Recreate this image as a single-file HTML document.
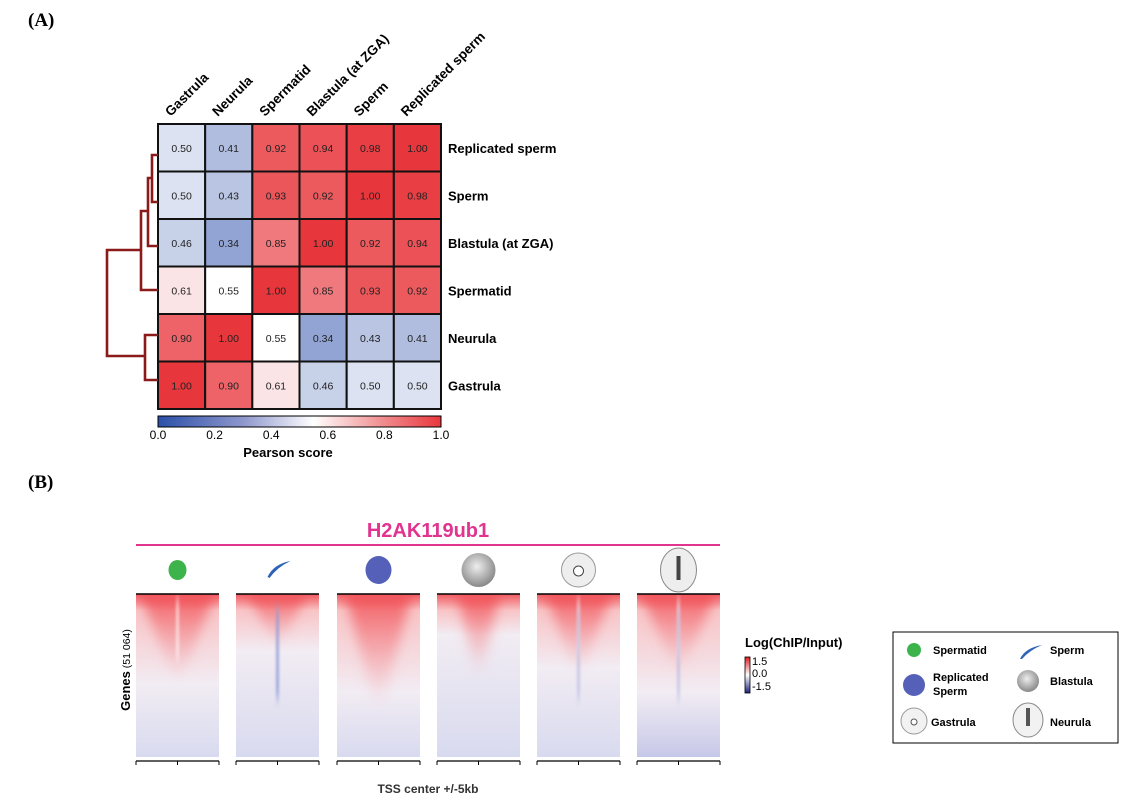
<!DOCTYPE html>
<html><head><meta charset="utf-8"><style>
body{margin:0;background:#fff;}
svg{display:block;font-family:"Liberation Sans",sans-serif;}
.b{font-weight:bold}
</style></head><body>
<svg id="s" width="1138" height="812" viewBox="0 0 1138 812" xmlns="http://www.w3.org/2000/svg">
<defs>
<linearGradient id="cb" x1="0" x2="1" y1="0" y2="0">
<stop offset="0" stop-color="#2b4fa8"/><stop offset="0.3" stop-color="#8e97cc"/><stop offset="0.55" stop-color="#ffffff"/><stop offset="0.8" stop-color="#f08a8c"/><stop offset="1" stop-color="#e8373c"/>
</linearGradient>
<linearGradient id="lc" x1="0" x2="0" y1="0" y2="1">
<stop offset="0" stop-color="#e41a1c"/><stop offset="0.5" stop-color="#ffffff"/><stop offset="1" stop-color="#1a237e"/>
</linearGradient>
<radialGradient id="bl" cx="0.45" cy="0.4" r="0.6"><stop offset="0" stop-color="#eee"/><stop offset="1" stop-color="#888"/></radialGradient>
<filter id="blur" x="-50%" y="-10%" width="200%" height="120%"><feGaussianBlur stdDeviation="6 4"/></filter>
<filter id="blur2" x="-200%" y="-10%" width="500%" height="120%"><feGaussianBlur stdDeviation="1.2 6"/></filter>
</defs>
<text x="28" y="26" font-family="Liberation Serif" font-weight="bold" font-size="19">(A)</text>
<text x="28" y="488" font-family="Liberation Serif" font-weight="bold" font-size="19">(B)</text>
<g id="hm"></g>
<g stroke="#8b1a1a" stroke-width="2.6" fill="none">
<path d="M158 155 H152 V202 H158"/>
<path d="M152 178 H148 V246 H158"/>
<path d="M148 211 H141 V290 H158"/>
<path d="M158 335 H145 V380 H158"/>
<path d="M141 250 H107 V356 H145"/>
</g>
<rect x="158" y="416" width="283" height="11" fill="url(#cb)" stroke="#000" stroke-width="1"/>
<g font-size="12" text-anchor="middle">
<text x="158" y="439">0.0</text><text x="214.6" y="439">0.2</text><text x="271.2" y="439">0.4</text><text x="327.8" y="439">0.6</text><text x="384.4" y="439">0.8</text><text x="441" y="439">1.0</text>
</g>
<text x="288" y="457" text-anchor="middle" class="b" font-size="13">Pearson score</text>

<text x="428" y="537" text-anchor="middle" class="b" font-size="20" fill="#e0348f">H2AK119ub1</text>
<line x1="136" y1="545" x2="720" y2="545" stroke="#e0348f" stroke-width="2"/>
<g id="pb"></g>
<text x="428" y="793" text-anchor="middle" class="b" font-size="12" fill="#333">TSS center +/-5kb</text>
<text transform="translate(130,670) rotate(-90)" text-anchor="middle" font-size="13"><tspan class="b">Genes</tspan><tspan font-size="10.5"> (51 064)</tspan></text>

<text x="745" y="647" class="b" font-size="13">Log(ChIP/Input)</text>
<rect x="745" y="657" width="5" height="36" fill="url(#lc)" stroke="#000" stroke-width="0.8"/>
<g font-size="11"><text x="752" y="665">1.5</text><text x="752" y="677">0.0</text><text x="752" y="690">-1.5</text></g>

<rect x="893" y="632" width="225" height="111" fill="#fff" stroke="#000" stroke-width="1"/>
<circle cx="914" cy="650" r="7" fill="#3cb44b"/>
<text x="933" y="654" class="b" font-size="11">Spermatid</text>
<path d="M1020 659 Q1025 648 1042 645 Q1030 650 1022 659Z" fill="#2f63b8"/>
<text x="1050" y="654" class="b" font-size="11">Sperm</text>
<circle cx="914" cy="685" r="11" fill="#5560b8"/>
<text x="933" y="681" class="b" font-size="11">Replicated</text>
<text x="933" y="695" class="b" font-size="11">Sperm</text>
<circle cx="1028" cy="681" r="11" fill="url(#bl)"/>
<text x="1050" y="685" class="b" font-size="11">Blastula</text>
<circle cx="914" cy="721" r="13" fill="#f2f2f2" stroke="#999"/><circle cx="914" cy="722" r="3" fill="#fff" stroke="#555"/>
<text x="931" y="726" class="b" font-size="11">Gastrula</text>
<ellipse cx="1028" cy="720" rx="15" ry="17" fill="#f2f2f2" stroke="#888"/><rect x="1026" y="708" width="4" height="18" fill="#555"/>
<text x="1050" y="726" class="b" font-size="11">Neurula</text>
</svg>
<script>
var NS="http://www.w3.org/2000/svg";
function el(p,t,a,txt){var e=document.createElementNS(NS,t);for(var k in a)e.setAttribute(k,a[k]);if(txt)e.textContent=txt;p.appendChild(e);return e;}
var rows=["Replicated sperm","Sperm","Blastula (at ZGA)","Spermatid","Neurula","Gastrula"];
var cols=["Gastrula","Neurula","Spermatid","Blastula (at ZGA)","Sperm","Replicated sperm"];
var V=[[.50,.41,.92,.94,.98,1.00],[.50,.43,.93,.92,1.00,.98],[.46,.34,.85,1.00,.92,.94],[.61,.55,1.00,.85,.93,.92],[.90,1.00,.55,.34,.43,.41],[1.00,.90,.61,.46,.50,.50]];
function col(v){var r,g,b;if(v<0.55){var t=Math.pow((0.55-v)/0.55,0.8);r=255+(20-255)*t;g=255+(60-255)*t;b=255+(160-255)*t;}else{var t=(v-0.55)/0.45;r=255+(232-255)*t;g=255+(55-255)*t;b=255+(60-255)*t;}return "rgb("+(r|0)+","+(g|0)+","+(b|0)+")";}
var hm=document.getElementById("hm");var x0=158,y0=124,w=283/6,h=285/6;
for(var i=0;i<6;i++)for(var j=0;j<6;j++){el(hm,"rect",{x:x0+j*w,y:y0+i*h,width:w,height:h,fill:col(V[i][j]),stroke:"#111","stroke-width":2});
el(hm,"text",{x:x0+j*w+w/2,y:y0+i*h+h/2+4,"text-anchor":"middle","font-size":"10.5",fill:"#222"},V[i][j].toFixed(2));}
for(var i=0;i<6;i++)el(hm,"text",{x:448,y:y0+i*h+h/2+5,"font-size":"13","font-weight":"bold"},rows[i]);
for(var j=0;j<6;j++){var cx=x0+j*w+w/2-11;el(hm,"text",{x:cx,y:117,"font-size":"13.5","font-weight":"bold",transform:"rotate(-45 "+cx+" 117)"},cols[j]);}
var pb=document.getElementById("pb");var xs=[136,236,337,437,537,637],pw=83,ytop=594,ybot=757;
var cfg=[[0.55,0.45,0.9,0],[0.35,0.05,0.7,1],[0.6,0.75,0.8,0],[0.25,0.4,0.5,0],[0.45,0.35,0.8,1],[0.6,0.35,0.9,1]];
var defs=document.querySelector("defs");
for(var k=0;k<6;k++){var x=xs[k],c=cfg[k];
var cp=el(defs,"clipPath",{id:"c"+k});el(cp,"rect",{x:x,y:ytop,width:pw,height:ybot-ytop});
var gg=el(pb,"g",{"clip-path":"url(#c"+k+")"});
var g=el(defs,"linearGradient",{id:"v"+k,x1:0,x2:0,y1:0,y2:1});
el(g,"stop",{offset:0,"stop-color":"#f05a60"});el(g,"stop",{offset:0.1,"stop-color":"#f8c4c6"});
el(g,"stop",{offset:c[0],"stop-color":"#f2ecf3"});el(g,"stop",{offset:1,"stop-color":k==5?"#c6c8e8":"#d8daef"});
el(gg,"rect",{x:x,y:ytop,width:pw,height:ybot-ytop,fill:"url(#v"+k+")"});
var g2=el(defs,"linearGradient",{id:"f"+k,x1:0,x2:0,y1:0,y2:1});
el(g2,"stop",{offset:0,"stop-color":"#f04a50","stop-opacity":0.85});el(g2,"stop",{offset:1,"stop-color":"#f6a0a4","stop-opacity":0});
var hw=pw*c[2]*0.5,L=(ybot-ytop)*(0.3+c[1]*0.55);
el(gg,"path",{d:"M"+(x+pw/2-hw)+" "+ytop+" L"+(x+pw/2+hw)+" "+ytop+" L"+(x+pw/2+3)+" "+(ytop+L)+" L"+(x+pw/2-3)+" "+(ytop+L)+"Z",fill:"url(#f"+k+")",filter:"url(#blur)"});
if(k==0||k==4||k==5)el(gg,"rect",{x:x+pw/2-1.5,y:ytop+5,width:3,height:60,fill:"#fff",opacity:0.6,filter:"url(#blur2)"});
if(c[3])el(gg,"rect",{x:x+pw/2-1.5,y:ytop+15,width:3,height:(ybot-ytop)*0.55,fill:"#8e9ad8",opacity:k==1?0.8:0.4,filter:"url(#blur2)"});
el(pb,"line",{x1:x,y1:ytop,x2:x+pw,y2:ytop,stroke:"#000","stroke-width":1.5});
el(pb,"line",{x1:x,y1:ybot+4,x2:x+pw,y2:ybot+4,stroke:"#000","stroke-width":1.2});
[0,pw/2,pw].forEach(function(d){el(pb,"line",{x1:x+d,y1:ybot+4,x2:x+d,y2:ybot+8,stroke:"#000","stroke-width":1});});
var cx=x+pw/2,cy=570;
if(k==0)el(pb,"ellipse",{cx:cx,cy:cy,rx:9,ry:10,fill:"#3cb44b"});
if(k==1)el(pb,"path",{d:"M"+(cx-10)+" "+(cy+7)+" Q"+(cx-4)+" "+(cy-6)+" "+(cx+13)+" "+(cy-9)+" Q"+(cx)+" "+(cy-3)+" "+(cx-8)+" "+(cy+8)+"Z",fill:"#2f63b8"});
if(k==2)el(pb,"ellipse",{cx:cx,cy:cy,rx:13,ry:14,fill:"#5560b8"});
if(k==3)el(pb,"circle",{cx:cx,cy:cy,r:17,fill:"url(#bl)"});
if(k==4){el(pb,"circle",{cx:cx,cy:cy,r:17,fill:"#eee",stroke:"#999"});el(pb,"circle",{cx:cx,cy:cy+1,r:5,fill:"#fff",stroke:"#444"});}
if(k==5){el(pb,"ellipse",{cx:cx,cy:cy,rx:18,ry:22,fill:"#eee",stroke:"#888"});el(pb,"rect",{x:cx-2,y:cy-14,width:4,height:24,fill:"#444"});}
}
</script>
</body></html>
